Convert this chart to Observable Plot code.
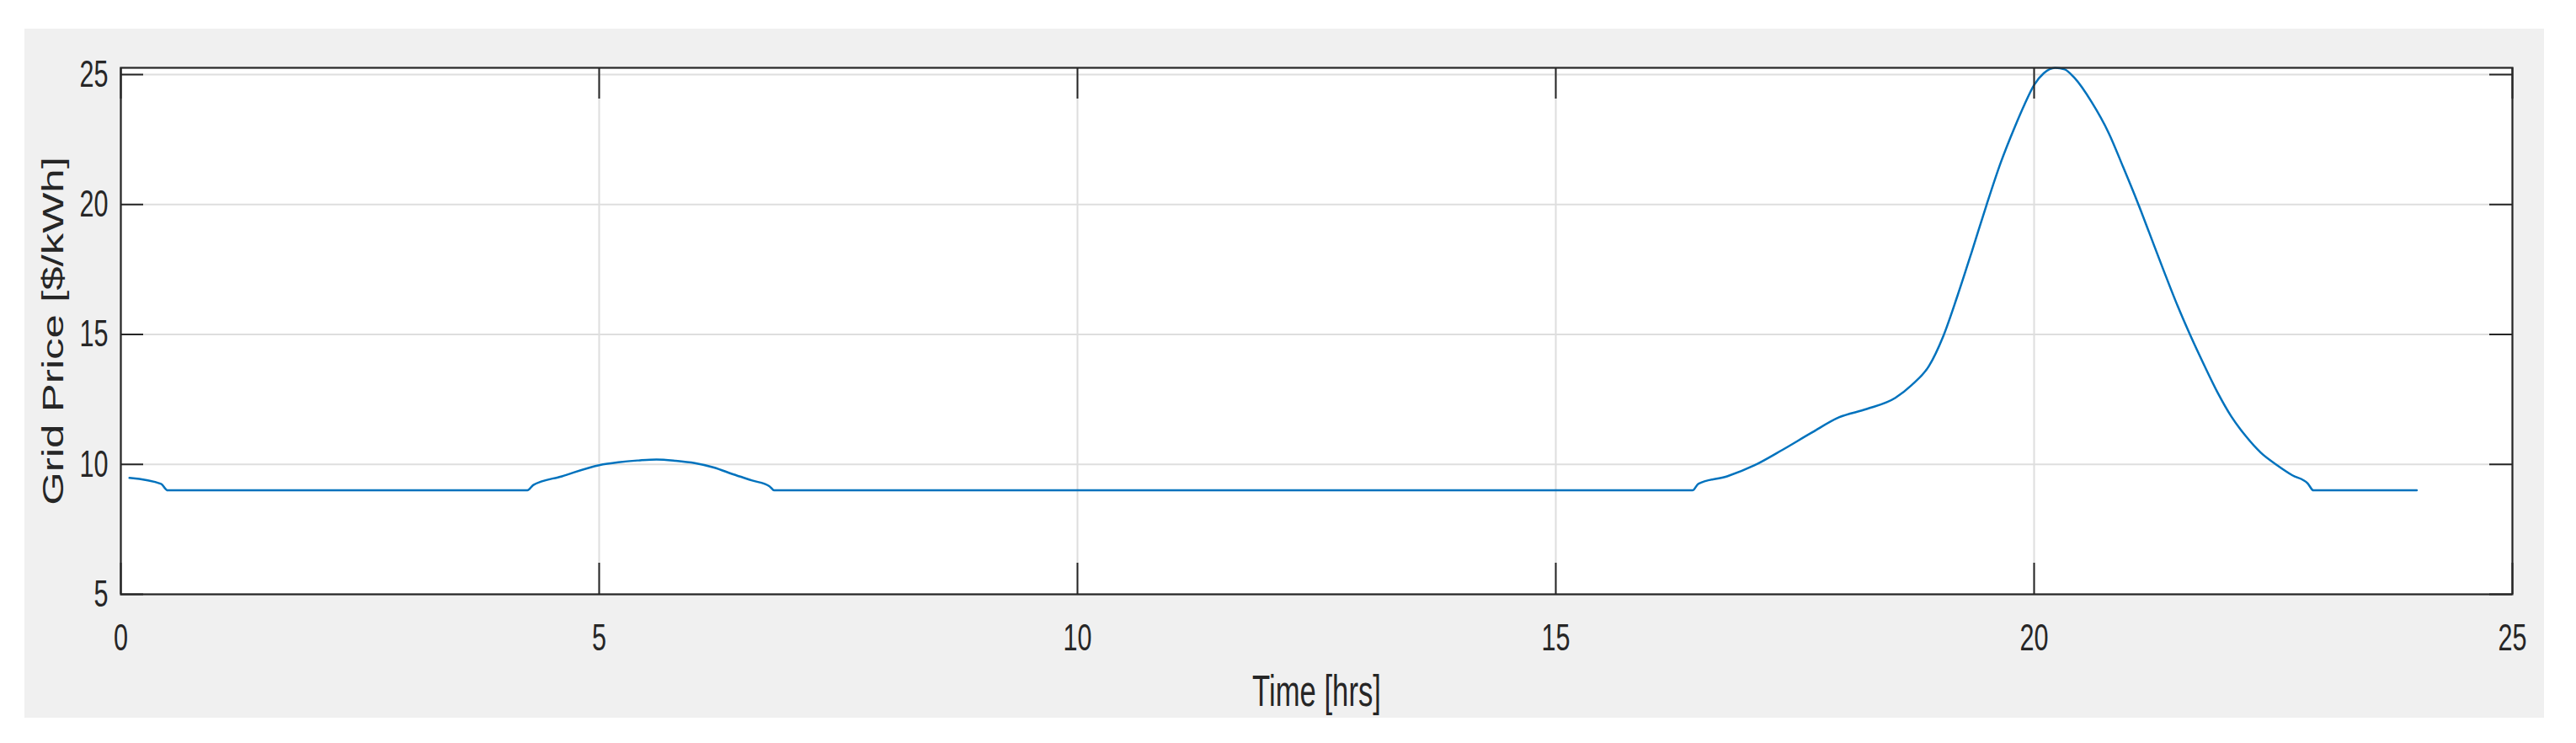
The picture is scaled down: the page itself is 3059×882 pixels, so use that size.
<!DOCTYPE html>
<html>
<head>
<meta charset="utf-8">
<script src="https://cdn.jsdelivr.net/npm/d3@7"></script>
<script src="https://cdn.jsdelivr.net/npm/@observablehq/plot@0.6"></script>
<style>
  html, body { margin: 0; padding: 0; background: #ffffff; }
  #wrap { position: relative; width: 3059px; height: 882px; overflow: hidden; }
  #panel { position: absolute; left: 29px; top: 34px; width: 2992px; height: 818px; background: #f0f0f0; }
  #chart { position: absolute; left: 0; top: 0; }
</style>
</head>
<body>
<div id="wrap"><div id="panel"></div><div id="chart"></div></div>
<script>
const hours = [0.09, 0.42, 0.49, 4.25, 4.31, 4.61, 5.0, 5.2, 5.4, 5.6, 5.8, 6.0, 6.2, 6.4, 6.6, 6.78, 6.83,
  16.43, 16.49, 16.79, 17.08, 17.37, 17.67, 17.96, 18.25, 18.55, 18.72, 18.9, 19.05, 19.2, 19.35, 19.5,
  19.65, 19.8, 19.9, 20.0, 20.1, 20.22, 20.32, 20.42, 20.6, 20.78, 20.93, 21.08, 21.2, 21.35, 21.5,
  21.63, 21.78, 21.92, 22.06, 22.21, 22.37, 22.54, 22.7, 22.86, 22.92, 24.0];
const price = [9.48, 9.25, 9.0, 9.0, 9.2, 9.54, 9.97, 10.08, 10.15, 10.19, 10.14, 10.05, 9.88, 9.62, 9.38, 9.16, 9.0,
  9.0, 9.25, 9.54, 9.97, 10.56, 11.21, 11.81, 12.13, 12.56, 13.05, 13.78, 14.93, 16.5, 18.2, 19.95,
  21.6, 23.0, 23.85, 24.6, 25.05, 25.26, 25.2, 24.88, 23.95, 22.75, 21.45, 20.1, 18.95, 17.5, 16.1,
  14.99, 13.8, 12.75, 11.85, 11.1, 10.45, 9.97, 9.58, 9.27, 9.0, 9.0];
const xTicks = [0, 5, 10, 15, 20, 25];
const yTicks = [5, 10, 15, 20, 25];
const xLabel = "Time [hrs]";
const yLabel = "Grid Price [$/kWh]";

const data = hours.map((h, i) => ({h, p: price[i]}));

const W = 3059, H = 882;
const mL = 143, mR = 76, mT = 80, mB = 177;
const fw = W - mL - mR, fh = H - mT - mB;
const ink = "#262626";

const chart = Plot.plot({
  width: W, height: H,
  marginLeft: mL, marginRight: mR, marginTop: mT, marginBottom: mB,
  style: {background: "transparent", fontFamily: "'Liberation Sans', Arial, Helvetica, sans-serif", fontSize: "45px", color: ink, overflow: "visible"},
  x: {domain: [0, 25]},
  y: {domain: [5, 25.26]},
  marks: [
    Plot.frame({fill: "white"}),
    Plot.gridX(xTicks, {stroke: "#dedede", strokeOpacity: 1, strokeWidth: 2}),
    Plot.gridY(yTicks, {stroke: "#dedede", strokeOpacity: 1, strokeWidth: 2}),
    Plot.line(data, {x: "h", y: "p", stroke: "#0072BD", strokeWidth: 2.5, curve: "monotone-x"}),
    Plot.tickX(xTicks, {x: d => d, insetTop: fh - 37, stroke: ink, strokeWidth: 2}),
    Plot.tickX(xTicks, {x: d => d, insetBottom: fh - 37, stroke: ink, strokeWidth: 2}),
    Plot.tickY(yTicks, {y: d => d, insetRight: fw - 27, stroke: ink, strokeWidth: 2}),
    Plot.tickY(yTicks, {y: d => d, insetLeft: fw - 27, stroke: ink, strokeWidth: 2}),
    Plot.frame({stroke: ink, strokeWidth: 2.2}),
    Plot.axisX(xTicks, {tickSize: 0, tickPadding: 35, label: null, fill: ink, tickFormat: d => String(d)}),
    Plot.axisY(yTicks, {tickSize: 0, tickPadding: 15, label: null, fill: ink, tickFormat: d => String(d)}),
    Plot.text([xLabel], {text: d => d, frameAnchor: "bottom", dy: 116, textAnchor: "middle", lineAnchor: "middle", fontSize: 51, fill: ink}),
    Plot.text([yLabel], {text: d => d, frameAnchor: "left", dx: -80, rotate: -90, textAnchor: "middle", lineAnchor: "middle", fontSize: 51, fill: ink})
  ]
});

// Condense glyphs horizontally (the reference's text is narrow)
chart.querySelectorAll("text").forEach(t => {
  let tr = t.getAttribute("transform");
  if (!tr) {
    const x = t.getAttribute("x") || 0, y = t.getAttribute("y") || 0;
    t.removeAttribute("x"); t.removeAttribute("y");
    tr = `translate(${x},${y})`;
  }
  t.setAttribute("transform", tr + (tr.includes("rotate") ? " scale(1,0.68)" : " scale(0.68,1)"));
});

document.getElementById("chart").appendChild(chart);
</script>
</body>
</html>
